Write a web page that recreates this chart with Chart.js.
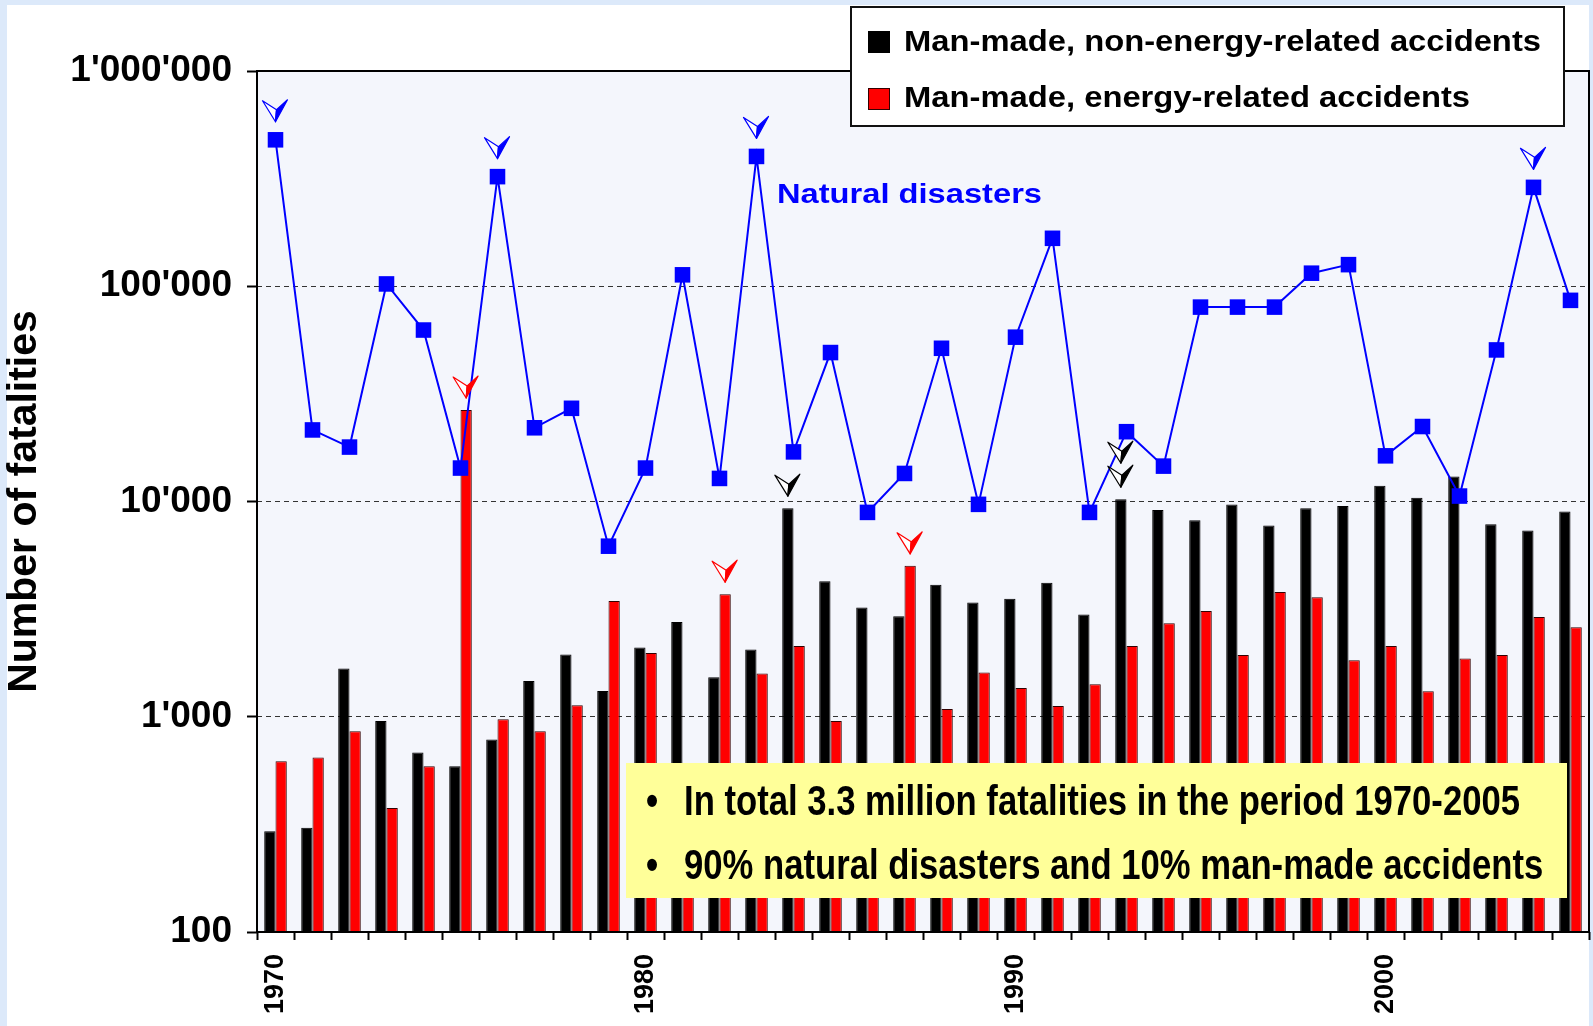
<!DOCTYPE html>
<html>
<head>
<meta charset="utf-8">
<title>Fatalities 1970-2005</title>
<script src="https://cdn.jsdelivr.net/npm/chart.js@4.4.1/dist/chart.umd.min.js"></script>
<style>
  html, body { margin: 0; padding: 0; background: #fff; }
  #wrap { width: 1593px; height: 1026px; }
</style>
</head>
<body>
<div id="wrap"><canvas id="graficoFatal" width="1593" height="1026"></canvas></div>
<script>
// datos
var years = ['1970','1971','1972','1973','1974','1975','1976','1977','1978','1979',
             '1980','1981','1982','1983','1984','1985','1986','1987','1988','1989',
             '1990','1991','1992','1993','1994','1995','1996','1997','1998','1999',
             '2000','2001','2002','2003','2004','2005'];

var natural = [479000, 21500, 17900, 102500, 62600, 14300, 323000, 22000, 27100, 6200,
               14300, 113000, 12800, 401000, 17000, 49200, 8900, 13500, 51500, 9700,
               58000, 167000, 8900, 21100, 14600, 80000, 80000, 80000, 115000, 126000,
               16300, 22300, 10600, 50600, 288000, 86000];

var nonEnergy = [294, 305, 1675, 955, 682, 589, 783, 1467, 1946, 1318,
                 2098, 2759, 1527, 2052, 9310, 4266, 3219, 2932, 4100, 3395,
                 3530, 4189, 2986, 10250, 9120, 8185, 9690, 7740, 9315, 9525,
                 11840, 10400, 13060, 7850, 7340, 8990];

var energy = [621, 646, 857, 377, 589, 26600, 973, 857, 1131, 3452,
              1980, 608, 3710, 1588, 2134, 956, 520, 5024, 1087, 1604,
              1361, 1123, 1416, 2134, 2722, 3097, 1938, 3802, 3594, 1831,
              2134, 1314, 1866, 1938, 2910, 2606];

var yTicks = [100, 1000, 10000, 100000, 1000000];
var yTickLabels = ['100', "1'000", "10'000", "100'000", "1'000'000"];
var xLabelYears = ['1970', '1980', '1990', '2000'];

var legendLabels = ['Man-made, non-energy-related accidents', 'Man-made, energy-related accidents'];
var naturalLabel = 'Natural disasters';
var notes = ['In total 3.3 million fatalities in the period 1970-2005',
             '90% natural disasters and 10% man-made accidents'];

// flechas: [dataset, anio, cantidad]
var arrowMarks = [[2, '1970', 1], [2, '1976', 1], [2, '1983', 1], [2, '2004', 1],
                  [1, '1975', 1], [1, '1982', 1], [1, '1987', 1],
                  [0, '1984', 1], [0, '1993', 2]];

var fuente = '"Liberation Sans", Arial, sans-serif';
var colores = ['#000000', '#ff0000', '#0000ff'];

function textoEstirado(ctx, txt, x, y, escala) {
  ctx.save();
  ctx.translate(x, y);
  ctx.scale(escala, 1);
  ctx.fillText(txt, 0, 0);
  ctx.restore();
}

function dibujarFlecha(ctx, x, y, color) {
  ctx.save();
  ctx.translate(x, y);
  ctx.lineWidth = 1.2;
  ctx.lineJoin = 'round';
  ctx.strokeStyle = color;
  // mitad izquierda solo contorno
  ctx.fillStyle = '#ffffff';
  ctx.beginPath();
  ctx.moveTo(0, 0);
  ctx.lineTo(-13, -21);
  ctx.lineTo(1, -12);
  ctx.closePath();
  ctx.fill();
  ctx.stroke();
  // mitad derecha rellena
  ctx.fillStyle = color;
  ctx.beginPath();
  ctx.moveTo(0, 0);
  ctx.lineTo(1, -12);
  ctx.lineTo(12, -22);
  ctx.closePath();
  ctx.fill();
  ctx.stroke();
  ctx.restore();
}

var fondoPlugin = {
  id: 'fondo',
  beforeDraw: function(chart) {
    var ctx = chart.ctx, a = chart.chartArea;
    ctx.save();
    ctx.fillStyle = '#dce9fa';
    ctx.fillRect(0, 0, chart.width, chart.height);
    ctx.fillStyle = '#ffffff';
    ctx.fillRect(7, 5, chart.width - 11, chart.height - 5);
    ctx.fillStyle = '#f4f6fc';
    ctx.fillRect(a.left, a.top, a.right - a.left, a.bottom - a.top);
    ctx.restore();
  }
};

var marcoPlugin = {
  id: 'marco',
  afterDatasetsDraw: function(chart) {
    var ctx = chart.ctx, a = chart.chartArea;
    ctx.save();
    ctx.strokeStyle = '#000';
    ctx.lineWidth = 2;
    ctx.strokeRect(a.left, a.top, a.right - a.left, a.bottom - a.top);
    ctx.restore();

    arrowMarks.forEach(function(m) {
      var idx = years.indexOf(m[1]);
      var el = chart.getDatasetMeta(m[0]).data[idx];
      var off = m[0] === 2 ? 18 : 12;
      for (var k = 0; k < m[2]; k++) {
        dibujarFlecha(ctx, el.x, el.y - off - k * 24, colores[m[0]]);
      }
    });
  },
  afterDraw: function(chart) {
    var ctx = chart.ctx;
    ctx.save();

    // leyenda
    ctx.fillStyle = '#ffffff';
    ctx.fillRect(851, 7, 713, 119);
    ctx.strokeStyle = '#111';
    ctx.lineWidth = 2;
    ctx.strokeRect(851, 7, 713, 119);
    ctx.fillStyle = colores[0];
    ctx.fillRect(868, 31, 22, 22);
    ctx.fillStyle = colores[1];
    ctx.fillRect(868, 88, 22, 22);
    ctx.lineWidth = 1;
    ctx.strokeStyle = '#300';
    ctx.strokeRect(868.5, 88.5, 21, 21);
    ctx.font = 'bold 29px ' + fuente;
    ctx.fillStyle = '#000';
    ctx.textBaseline = 'middle';
    var esc = 637 / ctx.measureText(legendLabels[0]).width;
    textoEstirado(ctx, legendLabels[0], 904, 43, esc);
    textoEstirado(ctx, legendLabels[1], 904, 99, esc);

    // etiqueta serie natural
    ctx.font = 'bold 28px ' + fuente;
    ctx.fillStyle = colores[2];
    var esc2 = 265 / ctx.measureText(naturalLabel).width;
    textoEstirado(ctx, naturalLabel, 777, 195, esc2);

    // cuadro amarillo
    ctx.fillStyle = '#ffff99';
    ctx.fillRect(626, 763, 941, 135);
    ctx.fillStyle = '#000';
    ctx.textBaseline = 'alphabetic';
    ctx.font = 'bold 42px "Liberation Sans Narrow", "Liberation Sans", sans-serif';
    var esc3 = 836 / ctx.measureText(notes[0]).width;
    textoEstirado(ctx, '\u2022', 646, 815, esc3);
    textoEstirado(ctx, notes[0], 684, 815, esc3);
    textoEstirado(ctx, '\u2022', 646, 879, esc3);
    textoEstirado(ctx, notes[1], 684, 879, esc3);
    ctx.restore();
  }
};

var ctxGraf = document.getElementById('graficoFatal').getContext('2d');

var graficoFatal = new Chart(ctxGraf, {
  type: 'bar',
  data: {
    labels: years,
    datasets: [
      {
        label: legendLabels[0],
        data: nonEnergy,
        backgroundColor: colores[0],
        borderColor: '#000',
        borderWidth: 1,
        categoryPercentage: 0.61,
        barPercentage: 1.0,
        order: 2
      },
      {
        label: legendLabels[1],
        data: energy,
        backgroundColor: colores[1],
        borderColor: '#300',
        borderWidth: 1,
        categoryPercentage: 0.61,
        barPercentage: 1.0,
        order: 2
      },
      {
        type: 'line',
        label: naturalLabel,
        data: natural,
        borderColor: colores[2],
        borderWidth: 2,
        pointStyle: 'rect',
        pointRadius: 11,
        pointBackgroundColor: colores[2],
        pointBorderWidth: 0,
        tension: 0,
        clip: false,
        order: 1
      }
    ]
  },
  options: {
    responsive: false,
    devicePixelRatio: 1,
    animation: false,
    layout: { autoPadding: false, padding: { top: 71, right: 4, left: 0, bottom: 0 } },
    plugins: {
      legend: { display: false },
      tooltip: { enabled: false }
    },
    scales: {
      x: {
        offset: true,
        grid: { offset: true, drawOnChartArea: false, drawTicks: true, tickLength: 8, tickColor: '#000', tickWidth: 2 },
        border: { display: false },
        ticks: {
          autoSkip: false,
          maxRotation: 90,
          minRotation: 90,
          padding: 14,
          color: '#000',
          font: { family: fuente, size: 27, weight: 'bold' },
          callback: function(v) {
            var y = this.getLabelForValue(v);
            return xLabelYears.indexOf(y) >= 0 ? y : '';
          }
        },
        afterFit: function(s) {
          s.height = 94;
          s.paddingLeft = 0;
          s.paddingRight = 0;
        }
      },
      y: {
        type: 'logarithmic',
        min: 100,
        max: 1000000,
        afterBuildTicks: function(s) {
          s.ticks = yTicks.map(function(v) { return { value: v }; });
        },
        grid: {
          color: function(c) {
            var v = c.tick ? c.tick.value : 0;
            return (v > 100 && v < 1000000) ? '#333' : 'rgba(0,0,0,0)';
          },
          lineWidth: 1,
          drawTicks: true,
          tickLength: 10,
          tickColor: '#000',
          tickWidth: 2
        },
        border: { display: false, dash: [5, 4] },
        ticks: {
          padding: 15,
          color: '#000',
          font: { family: fuente, size: 37, weight: 'bold' },
          callback: function(v) {
            var i = yTicks.indexOf(v);
            return i >= 0 ? yTickLabels[i] : '';
          }
        },
        title: {
          display: true,
          text: 'Number of fatalities',
          color: '#000',
          font: { family: fuente, size: 41, weight: 'bold' },
          padding: { top: 0, bottom: 0 }
        },
        afterFit: function(s) { s.width = 257; }
      }
    }
  },
  plugins: [fondoPlugin, marcoPlugin]
});
</script>
</body>
</html>
